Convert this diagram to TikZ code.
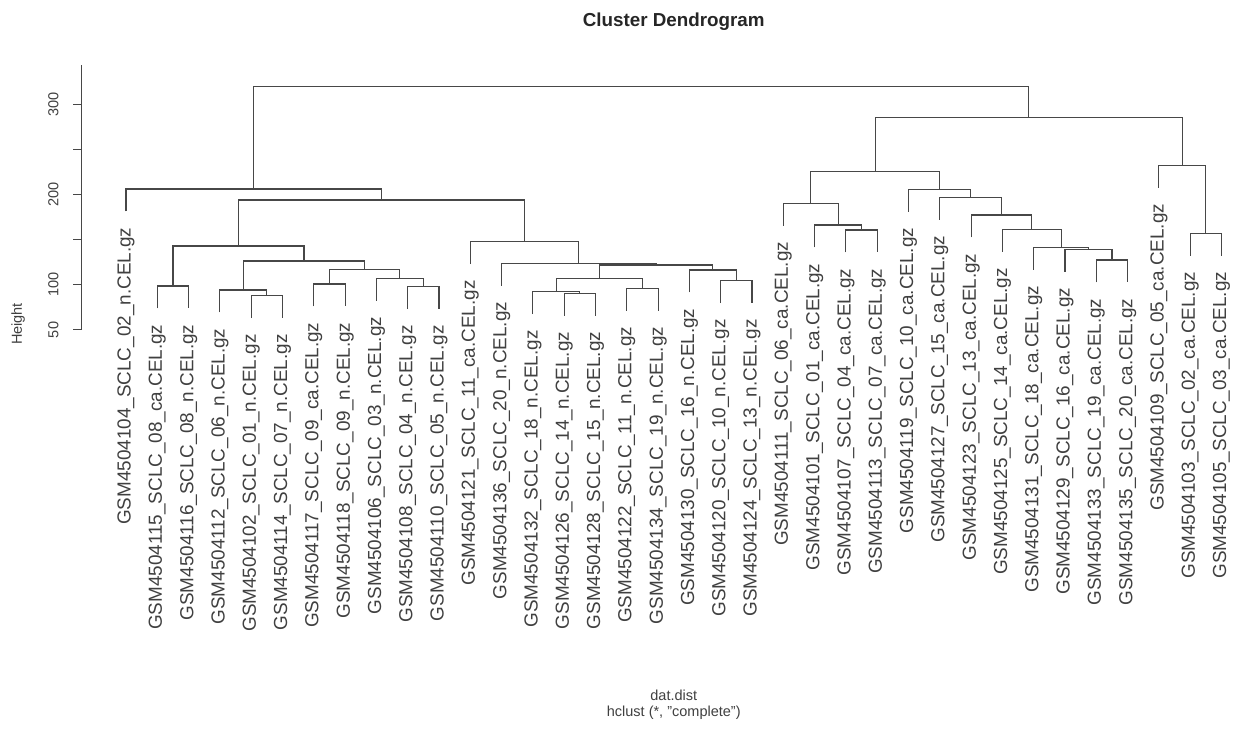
\documentclass[tikz,border=0pt]{standalone}
\usepackage{fontspec}
\setmainfont{Liberation Sans}
\begin{document}
\begin{tikzpicture}[x=31.3bp, y=0.903bp,
	branch/.style={draw=black!72, line width=1.1bp},
	leaf/.style={rotate=90, anchor=east, inner sep=0pt, text=black!75, font=\fontsize{18.9bp}{20bp}\selectfont},
	axislab/.style={inner sep=0pt, text=black!75, font=\fontsize{14.5bp}{16bp}\selectfont}]
	\path[fill=white] (-4.026,-406.3) rectangle (35.623,415.4);
	\useasboundingbox (-4.026,-406.3) rectangle (35.623,415.4);
	
	%height axis
	\draw[branch] (-1.415,50) -- (-1.415,343.4);
	\foreach \y in {50, 100, ..., 300}{
		\draw[branch] (-1.415,\y) -- (-1.703,\y);
	}
	\foreach \y in {50, 100, 200, 300}{
		\node[axislab, rotate=90] (t\y) at (-2.323,\y) {\y};
	}
	\node[axislab, rotate=90] (ylab) at (-3.45,56.6) {Height};
	
	%titles
	\node[inner sep=0pt, text=black!85, font=\fontsize{18.8bp}{20bp}\selectfont\bfseries] (title) at (17.5,391.4) {Cluster Dendrogram};
	\node[axislab] (xlab) at (17.5,-354.3) {dat.dist};
	\node[axislab] (sub) at (17.5,-373.4) {hclust (*, "complete")};
	
	%leaves: id / sample / type / height of parent
	\foreach \id/\s/\t/\h [count=\i from 0] in {
		104/02/n/206.1, 115/08/ca/98.7, 116/08/n/98.7, 112/06/n/94.2,
		102/01/n/87.9, 114/07/n/87.9, 117/09/ca/100.9, 118/09/n/100.9,
		106/03/n/107.2, 108/04/n/97.9, 110/05/n/97.9, 121/11/ca/147.7,
		136/20/n/123.8, 132/18/n/92.4, 126/14/n/90.6, 128/15/n/90.6,
		122/11/n/96.1, 134/19/n/96.1, 130/16/n/116.4, 120/10/n/104.5,
		124/13/n/104.5, 111/06/ca/190.3, 101/01/ca/166.2, 107/04/ca/160.7,
		113/07/ca/160.7, 119/10/ca/205.8, 127/15/ca/196.9, 123/13/ca/177.3,
		125/14/ca/161.2, 131/18/ca/141.5, 129/16/ca/139.3, 133/19/ca/127.5,
		135/20/ca/127.5, 109/05/ca/232.3, 103/02/ca/157, 105/03/ca/157}{
		\coordinate (l\i) at (\i,{\h-24.8});
		\node[leaf] (n\i) at (\i,{\h-42.5}) {GSM4504\id\_SCLC\_\s\_\t.CEL.gz};
	}
	
	%merges: name / x / height / left / right
	\foreach \m/\x/\h/\p/\q in {
		a1/1.5/98.7/l1/l2, a2/4.5/87.9/l4/l5, a3/3.75/94.2/l3/a2,
		a4/6.5/100.9/l6/l7, a5/9.5/97.9/l9/l10, a6/8.75/107.2/l8/a5,
		a7/7.625/117.2/a4/a6, a8/5.688/126.4/a3/a7, a9/3.594/143/a1/a8,
		b1/14.5/90.6/l14/l15, b2/13.75/92.4/l13/b1, b3/16.5/96.1/l16/l17,
		b4/15.125/107.2/b2/b3, b5/19.5/104.5/l19/l20, b6/18.75/116.4/l18/b5,
		b7/16.938/121.9/b4/b6, b8/14.469/123.8/l12/b7, b9/12.734/147.7/l11/b8,
		c1/8.164/193.9/a9/b9, c2/4.082/206.1/l0/c1,
		d1/23.5/160.7/l23/l24, d2/22.75/166.2/l22/d1, d3/21.875/190.3/l21/d2,
		e1/31.5/127.5/l31/l32, e2/30.75/139.3/l30/e1, e3/29.875/141.5/l29/e2,
		e4/28.938/161.2/l28/e3, e5/27.969/177.3/l27/e4, e6/26.984/196.9/l26/e5,
		e7/25.992/205.8/l25/e6, f1/23.934/225.2/d3/e7,
		g1/34.5/157/l34/l35, g2/33.75/232.3/l33/g1,
		f2/28.842/285.5/f1/g2, root/16.462/319.4/c2/f2}{
		\coordinate (\m) at (\x,\h);
		\draw[branch] (\p) |- (\m) -| (\q);
	}
\end{tikzpicture}
\end{document}
